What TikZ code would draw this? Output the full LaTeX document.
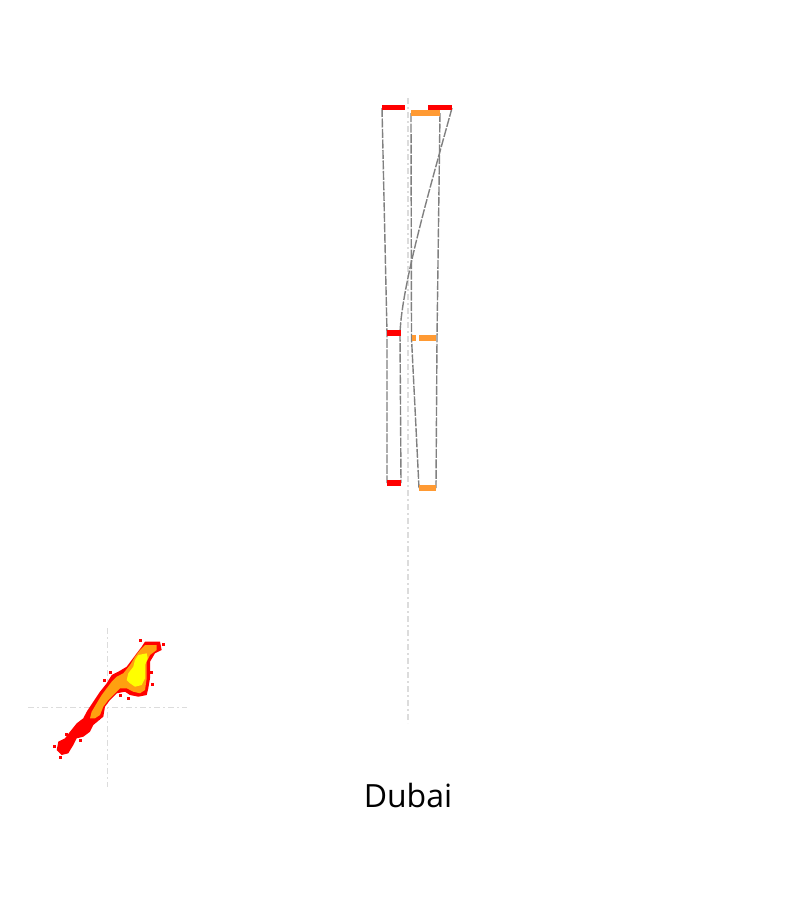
\documentclass[tikz,border=0pt]{standalone}
\usepackage{xcolor}
\usepackage{fontspec}
\newfontfamily\labelfont{Open Sans}
\usepackage{tikz}
\usetikzlibrary{positioning}
\definecolor{hapRed}{HTML}{FF0000}
\definecolor{hapOrange}{HTML}{FF9A33}
\definecolor{heatOrange}{HTML}{FFA010}
\definecolor{heatYellow}{HTML}{FFFF00}
\definecolor{linkGrey}{HTML}{808080}
\definecolor{axisGrey}{HTML}{DCDCDC}

\tikzset{
  link/.style={draw=linkGrey, line width=1.4pt, dash pattern=on 9pt off 1.5pt},
  axisline/.style={draw=axisGrey, line width=1.3pt, dash pattern=on 6pt off 3pt on 2pt off 3pt},
  bar/.style={line width=5.8pt}
}

\begin{document}
\begin{tikzpicture}[x=1pt, y=-1pt]
    \useasboundingbox (0,0) rectangle (800,900);
    % Central axis
    \coordinate (axTop) at (408,98);
    \coordinate (axBot) at (408,723);
    \draw[axisline] (axTop) -- (axBot);
    % Block ends (red haplotype)
    \coordinate (rA) at (382,108);
    \coordinate (rB) at (452,108);
    \coordinate (rC) at (387,333);
    \coordinate (rD) at (400,333);
    \coordinate (rE) at (387,483);
    \coordinate (rF) at (401,483);
    % Block ends (orange haplotype)
    \coordinate (oA) at (411,113);
    \coordinate (oB) at (440,113);
    \coordinate (oC) at (411.5,338);
    \coordinate (oD) at (437,338);
    \coordinate (oE) at (419,488);
    \coordinate (oF) at (436,488);
    % Links between blocks
    \draw[link] (rA) -- (rC) -- (rE);
    \draw[link] (rB) .. controls (428,195) and (402,285) .. (rD) -- (rF);
    \draw[link] (oA) -- (oC) -- (oE);
    \draw[link] (oB) -- (oD) -- (oF);
    % Blocks
    \foreach \xa/\xb/\yy in {382/405/107.5, 428/452/107.5, 387/401/333, 387/401/483} {
      \draw[bar, hapRed] (\xa,\yy) -- (\xb,\yy);
    }
    \foreach \xa/\xb/\yy in {411/440/113, 411.5/416/338, 419/436/338, 419/436/488} {
      \draw[bar, hapOrange] (\xa,\yy) -- (\xb,\yy);
    }
    % Density inset
    \coordinate (hL) at (28,707.7);
    \coordinate (hR) at (187,707.7);
    \coordinate (vT) at (107.7,628);
    \coordinate (vB) at (107.7,787);
    \draw[axisline] (hL) -- (hR);
    \draw[axisline] (vT) -- (vB);
    \fill[hapRed] (145,641.7) -- (160,641.7) -- (161.7,650) -- (155,653.3) -- (150,661.7)
      -- (150,678.3) -- (148.3,688.3) -- (146.7,695) -- (138.3,696.7) -- (130,695)
      -- (125,691.7) -- (116.7,693.3) -- (110,700) -- (105,706.7) -- (103.3,716.7)
      -- (93.3,725) -- (90,731.7) -- (83.3,736.7) -- (76.7,738.3) -- (73.3,745)
      -- (68.3,753.3) -- (61.7,755) -- (56.7,750) -- (58.3,741.7) -- (65,738.3)
      -- (70,731.7) -- (76.7,723.3) -- (83.3,718.3) -- (86.7,711.7) -- (93.3,701.7)
      -- (100,691.7) -- (106.7,683.3) -- (111.7,675) -- (118.3,671.7) -- (126.7,666.7)
      -- (131.7,660) -- (136.7,653.3) -- (141.7,646.7) -- cycle;
    % stray cells along the edge
    \foreach \px/\py in {152/684, 151/672, 128/698, 120/695, 104/680, 110/672,
                         98/718, 80/740, 60/757, 54/746, 66/734, 88/727, 140/640, 163/644} {
      \fill[hapRed] (\px-1.5,\py-1.5) rectangle (\px+1.5,\py+1.5);
    }
    \fill[heatOrange] (145,645) -- (156.7,645) -- (156.7,650) -- (150,655) -- (146.7,661.7)
      -- (146.7,678.3) -- (145,690) -- (140,693.3) -- (133.3,691.7) -- (126.7,688.3)
      -- (120,688.3) -- (115,693.3) -- (108.3,700) -- (103.3,706.7) -- (100,715)
      -- (95,718.3) -- (90,718.3) -- (91.7,711.7) -- (96.7,703.3) -- (101.7,695)
      -- (106.7,688.3) -- (111.7,681.7) -- (116.7,676.7) -- (123.3,673.3) -- (130,665)
      -- (135,656.7) -- (140,650) -- cycle;
    \fill[heatYellow] (138.3,655) -- (146.7,653.3) -- (147.7,658.3) -- (145,665)
      -- (145,678.3) -- (141.7,685) -- (135,686.7) -- (130,683.3) -- (126.7,680)
      -- (128.3,673.3) -- (133.3,666.7) -- (135,660) -- cycle;
    % Label
    \node[font=\labelfont\fontsize{32}{38}\selectfont, anchor=base] (city) at (408,807) {Dubai};
\end{tikzpicture}
\end{document}
